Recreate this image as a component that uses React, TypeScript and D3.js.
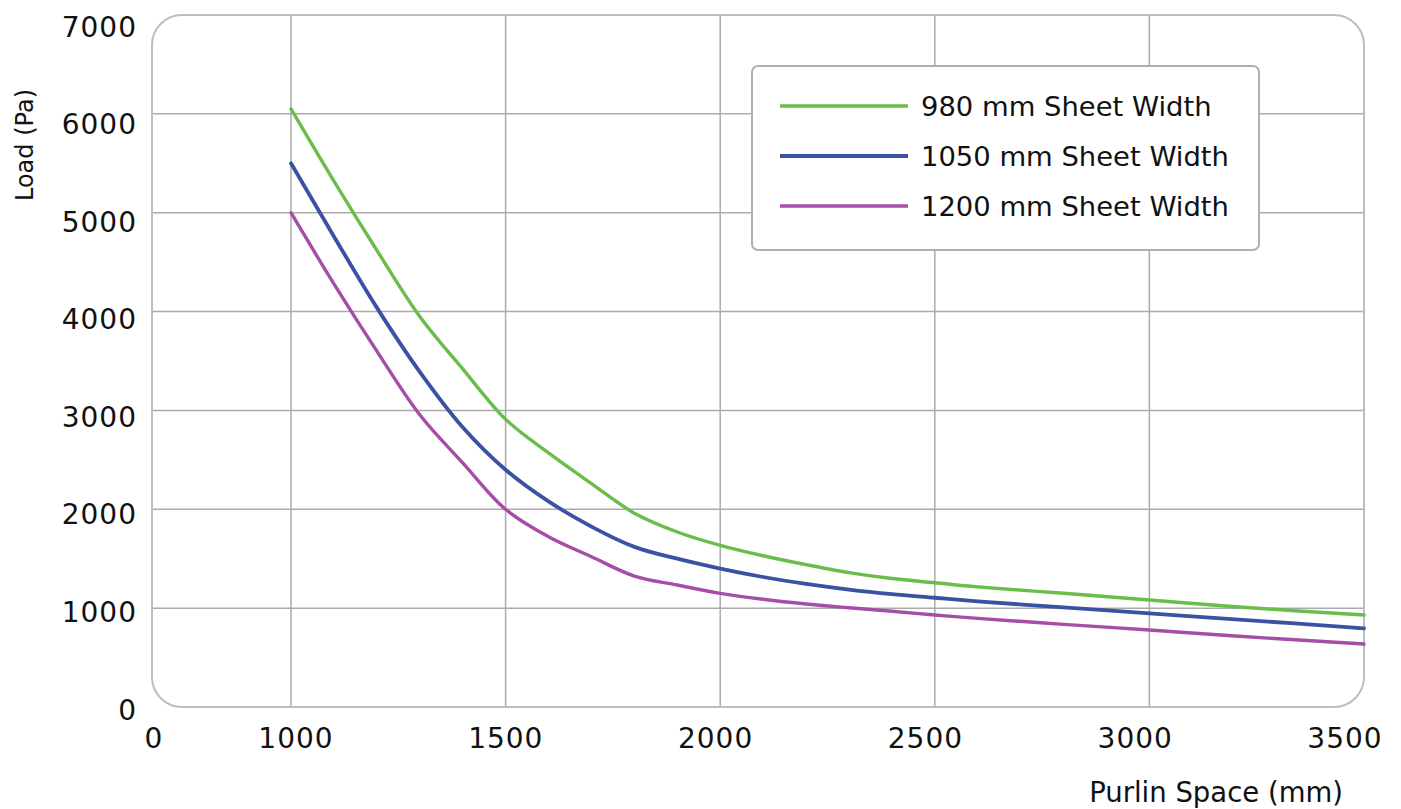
import React from "react";
import * as d3 from "d3";

const purlinSpace = [1000, 1100, 1200, 1300, 1400, 1500, 1600, 1700, 1800, 1900, 2000, 2100, 2200, 2300, 2400, 2500, 2600, 2800, 3000, 3200, 3500];
const load980 = [6050, 5320, 4620, 3950, 3420, 2910, 2570, 2260, 1960, 1770, 1635, 1530, 1440, 1360, 1300, 1257, 1215, 1150, 1082, 1014, 930];
const load1050 = [5500, 4760, 4040, 3390, 2830, 2400, 2080, 1825, 1620, 1500, 1400, 1315, 1245, 1188, 1142, 1105, 1068, 1008, 947, 887, 796];
const load1200 = [5000, 4280, 3600, 2956, 2470, 2000, 1722, 1520, 1325, 1234, 1150, 1090, 1042, 1004, 968, 930, 897, 836, 779, 718, 637];

const seriesNames = ["980 mm Sheet Width", "1050 mm Sheet Width", "1200 mm Sheet Width"];
const seriesColors = ["#6abd4b", "#3b51a3", "#a64ea7"];
const seriesWidths = [3.4, 3.8, 3.4];

const xTicks = [0, 1000, 1500, 2000, 2500, 3000, 3500];
const xGrid = [1000, 1500, 2000, 2500, 3000];
const yTicks = [0, 1000, 2000, 3000, 4000, 5000, 6000, 7000];
const yGrid = [1000, 2000, 3000, 4000, 5000, 6000];

const xTitle = "Purlin Space (mm)";
const yTitle = "Load (Pa)";

export default function App() {
  const left = 152, right = 1364, top = 15, bottom = 707;
  const x = d3.scaleLinear().domain([0, 1000, 3500]).range([left, 291, right]);
  const y = d3.scaleLinear().domain([0, 7000]).range([bottom, top]);
  // label placement scales (labels in the reference are slightly offset from grid)
  const xLab = d3.scaleLinear().domain([0, 1000, 3500]).range([154, 296, 1345]);
  const yLab = d3.scaleLinear().domain([0, 7000]).range([710, 27]);

  const all = [load980, load1050, load1200];
  const line = d3
    .line<[number, number]>()
    .x((d) => x(d[0]))
    .y((d) => y(d[1]))
    .curve(d3.curveCatmullRom.alpha(0.5));

  const tickFont = "'DejaVu Sans', sans-serif";
  const legendX0 = 752, legendY0 = 66, legendX1 = 1259, legendY1 = 250;
  const legendRows = [106, 156, 206];

  return (
    <svg
      width={1380}
      height={809}
      style={{ position: "absolute", left: 0, top: 0, background: "#fff" }}
    >
      <rect x={0} y={0} width={1380} height={809} fill="#fff" />
      {/* grid */}
      {yGrid.map((v) => (
        <line key={"hy" + v} x1={left} x2={right} y1={y(v)} y2={y(v)} stroke="#ababab" strokeWidth={1.5} />
      ))}
      {xGrid.map((v) => (
        <line key={"vx" + v} x1={x(v)} x2={x(v)} y1={top} y2={bottom} stroke="#ababab" strokeWidth={1.5} />
      ))}
      {/* border */}
      <rect x={left} y={top} width={right - left} height={bottom - top} rx={30} ry={30} fill="none" stroke="#bdbdbd" strokeWidth={2} />

      {/* series */}
      {all.map((vals, i) => (
        <path
          key={"s" + i}
          d={line(purlinSpace.map((p, j) => [p, vals[j]] as [number, number])) || ""}
          fill="none"
          stroke={seriesColors[i]}
          strokeWidth={seriesWidths[i]}
          strokeLinejoin="round"
          strokeLinecap="round"
        />
      ))}

      {/* y tick labels */}
      {yTicks.map((v) => (
        <text
          key={"yt" + v}
          x={137}
          y={yLab(v)}
          textAnchor="end"
          dominantBaseline="central"
          fontFamily={tickFont}
          fontSize={28}
          letterSpacing={1}
          fill="#111"
        >
          {v}
        </text>
      ))}
      {/* x tick labels */}
      {xTicks.map((v) => (
        <text
          key={"xt" + v}
          x={xLab(v)}
          y={748}
          textAnchor="middle"
          fontFamily={tickFont}
          fontSize={28}
          letterSpacing={1}
          fill="#111"
        >
          {v}
        </text>
      ))}

      {/* axis titles */}
      <text x={1343} y={802} textAnchor="end" fontFamily={tickFont} fontSize={27.5} fill="#111">
        {xTitle}
      </text>
      <text
        transform="translate(33,145) rotate(-90)"
        textAnchor="middle"
        fontFamily={tickFont}
        fontSize={24}
        fill="#111"
      >
        {yTitle}
      </text>

      {/* legend */}
      <rect
        x={legendX0}
        y={legendY0}
        width={legendX1 - legendX0}
        height={legendY1 - legendY0}
        rx={6}
        ry={6}
        fill="#fff"
        stroke="#b0b0b0"
        strokeWidth={2}
      />
      {seriesNames.map((name, i) => (
        <g key={"lg" + i}>
          <line
            x1={780}
            x2={908}
            y1={legendRows[i]}
            y2={legendRows[i]}
            stroke={seriesColors[i]}
            strokeWidth={seriesWidths[i] + 0.3}
          />
          <text
            x={921}
            y={legendRows[i] + 10}
            fontFamily={tickFont}
            fontSize={27.4}
            fill="#111"
          >
            {name}
          </text>
        </g>
      ))}
    </svg>
  );
}
